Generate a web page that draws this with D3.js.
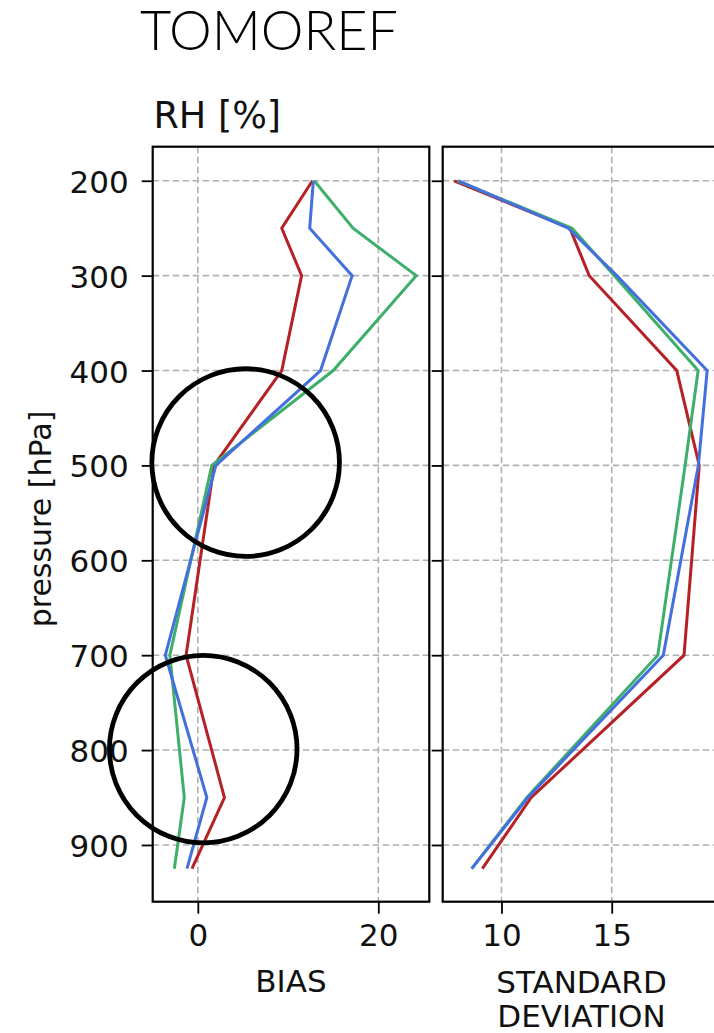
<!DOCTYPE html>
<html>
<head>
<meta charset="utf-8">
<script src="https://cdn.jsdelivr.net/npm/d3@7"></script>
<style>
  html, body { margin: 0; padding: 0; background: #fff; }
  svg { display: block; }
</style>
</head>
<body>
<svg id="chart" width="714" height="1033"></svg>
<script>
// ---------------- data ----------------
const levels = [200, 250, 300, 400, 500, 700, 850, 925];

const biasRed   = [12.7, 9.3, 11.5, 9.3, 1.8, -1.3, 2.95, -0.65];
const biasBlue  = [12.8, 12.4, 17.1, 13.6, 2.0, -3.6, 1.0, -1.2];
const biasGreen = [12.9, 17.2, 24.2, 15.0, 1.55, -3.1, -1.5, -2.6];

const sdRed   = [7.85, 13.1, 13.98, 17.95, 18.97, 18.28, 11.35, 9.13];
const sdBlue  = [8.05, 13.03, 15.23, 19.33, 18.93, 17.34, 11.2, 8.65];
const sdGreen = [8.0, 13.2, 15.12, 18.92, 18.33, 17.09, 11.15, 8.65];

const pressureTicks = [200, 300, 400, 500, 600, 700, 800, 900];
const biasTicks = [0, 20];
const sdTicks = [10, 15];

const seriesNames = ["red", "green", "blue"];
const seriesColors = ["#b52124", "#3daf6a", "#4470dd"];

// annotation circles (data coords of the BIAS panel)
const circleBias = [5.3, 0.6];
const circlePressure = [497, 799];

// ---------------- layout ----------------
const svg = d3.select("#chart");
const tickFont = "DejaVu Sans, sans-serif";

const topY = 146.7, bottomY = 901.7;
const y = d3.scaleLinear().domain([164.1, 959.8]).range([topY, bottomY]);

const panels = [
  { x0: 152.7, x1: 429.3, domain: [-5.0, 25.65], ticks: biasTicks,
    data: [biasRed, biasGreen, biasBlue], labels: ["BIAS"], yLabels: true },
  { x0: 442.7, x1: 719.3, domain: [7.333, 19.88], ticks: sdTicks,
    data: [sdRed, sdGreen, sdBlue], labels: ["STANDARD", "DEVIATION"], yLabels: false }
];

panels.forEach((p, pi) => {
  const x = d3.scaleLinear().domain(p.domain).range([p.x0, p.x1]);
  p.x = x;
  const g = svg.append("g");

  // grid
  g.selectAll(".hgrid").data(pressureTicks).enter().append("line")
    .attr("x1", p.x0).attr("x2", p.x1)
    .attr("y1", d => y(d)).attr("y2", d => y(d))
    .attr("stroke", "#b0b0b0").attr("stroke-width", 1.6)
    .attr("stroke-dasharray", "6.5,3.5");
  g.selectAll(".vgrid").data(p.ticks).enter().append("line")
    .attr("x1", d => x(d)).attr("x2", d => x(d))
    .attr("y1", topY).attr("y2", bottomY)
    .attr("stroke", "#b0b0b0").attr("stroke-width", 1.6)
    .attr("stroke-dasharray", "6.5,3.5");

  // lines
  const line = d3.line().x(d => x(d[0])).y(d => y(d[1]));
  p.data.forEach((vals, si) => {
    g.append("path")
      .datum(vals.map((v, i) => [v, levels[i]]))
      .attr("d", line)
      .attr("fill", "none")
      .attr("stroke", seriesColors[si])
      .attr("stroke-width", 3.0)
      .attr("stroke-linejoin", "miter")
      .attr("stroke-linecap", "butt");
  });

  // frame
  g.append("rect")
    .attr("x", p.x0).attr("y", topY)
    .attr("width", p.x1 - p.x0).attr("height", bottomY - topY)
    .attr("fill", "none").attr("stroke", "#000").attr("stroke-width", 2.2);

  // y axis
  const ya = d3.axisLeft(y).tickValues(pressureTicks).tickSize(11).tickPadding(13)
    .tickFormat(p.yLabels ? d3.format("d") : () => "");
  const yg = g.append("g").attr("transform", `translate(${p.x0},0)`).call(ya);
  yg.select(".domain").remove();
  yg.selectAll(".tick line").attr("stroke", "#000").attr("stroke-width", 1.8);
  yg.selectAll(".tick text").attr("font-family", tickFont).attr("font-size", 31)
    .attr("fill", "#111").attr("dy", "0.37em");

  // x axis
  const xa = d3.axisBottom(x).tickValues(p.ticks).tickSize(12).tickPadding(10)
    .tickFormat(d3.format("d"));
  const xg = g.append("g").attr("transform", `translate(0,${bottomY})`).call(xa);
  xg.select(".domain").remove();
  xg.selectAll(".tick line").attr("stroke", "#000").attr("stroke-width", 1.8);
  xg.selectAll(".tick text").attr("font-family", tickFont).attr("font-size", 31)
    .attr("fill", "#111").attr("dy", "0.71em");

  // x label
  const cx = pi === 0 ? (p.x0 + p.x1) / 2 : 581.5;
  p.labels.forEach((t, li) => {
    g.append("text")
      .attr("x", cx).attr("y", (pi === 0 ? 991.7 : 992.7) + li * 34.5)
      .attr("text-anchor", "middle")
      .attr("font-family", tickFont).attr("font-size", 31).attr("fill", "#111")
      .text(t);
  });
});

// y label
svg.append("text")
  .attr("transform", "translate(51,519) rotate(-90)")
  .attr("text-anchor", "middle")
  .attr("font-family", tickFont).attr("font-size", 30).attr("fill", "#111")
  .text("pressure [hPa]");

// panel title
svg.append("text")
  .attr("x", 153.5).attr("y", 127.7)
  .attr("font-family", tickFont).attr("font-size", 36.5).attr("fill", "#111")
  .text("RH [%]");

// figure title
svg.append("text")
  .attr("x", 140).attr("y", 50)
  .attr("font-family", "Lato, sans-serif").attr("font-weight", 300)
  .attr("font-size", 55).attr("fill", "#000")
  .attr("textLength", 258).attr("lengthAdjust", "spacingAndGlyphs")
  .text("TOMOREF");

// annotation circles (drawn in BIAS-panel data coordinates)
const bx = panels[0].x;
svg.selectAll(".anno").data(circleBias).enter().append("circle")
  .attr("cx", d => bx(d))
  .attr("cy", (d, i) => y(circlePressure[i]))
  .attr("r", 93.8)
  .attr("fill", "none").attr("stroke", "#000").attr("stroke-width", 4.8);
</script>
</body>
</html>
